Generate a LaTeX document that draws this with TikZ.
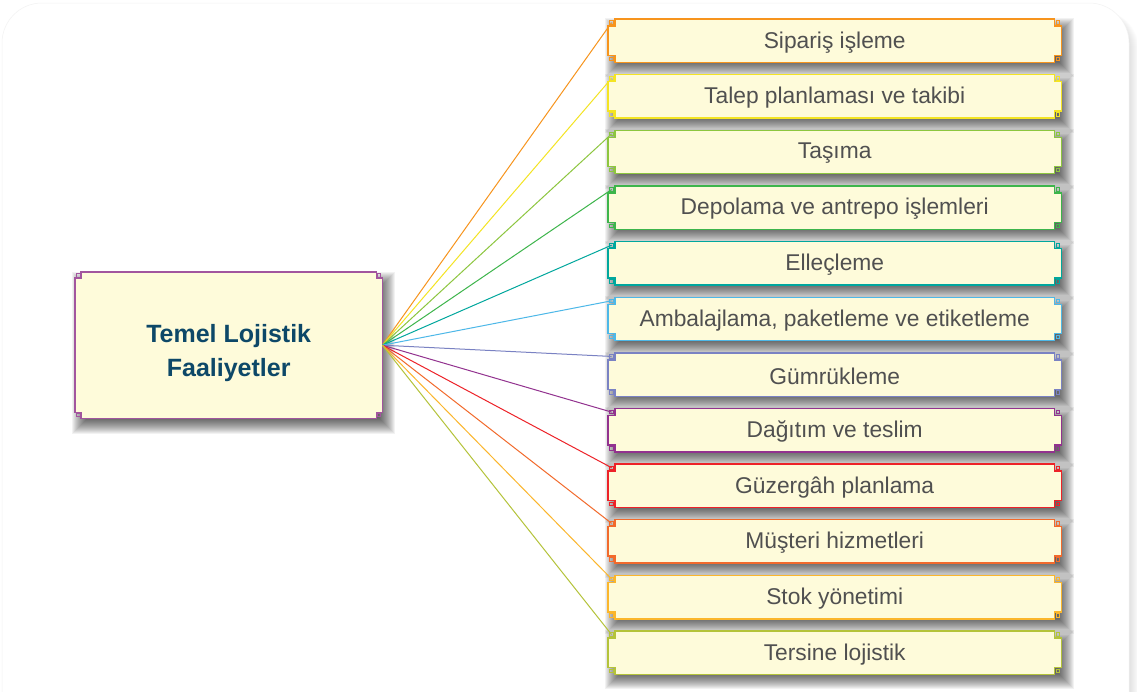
\documentclass[tikz,border=0pt]{standalone}
\usepackage{fontspec}
\setmainfont{Liberation Sans}
\usetikzlibrary{calc}

\pgfdeclarelayer{back}
\pgfdeclarelayer{shade}
\pgfdeclarelayer{frames}
\pgfsetlayers{back,shade,frames,main}

\definecolor{cream}{HTML}{FEFBDA}
\definecolor{itemtext}{HTML}{505050}
\definecolor{hubtext}{HTML}{0D4868}
\definecolor{hubline}{HTML}{A2559E}
\definecolor{c1}{HTML}{F7941D}
\definecolor{c2}{HTML}{F4E423}
\definecolor{c3}{HTML}{8DC63F}
\definecolor{c4}{HTML}{3DB54B}
\definecolor{c5}{HTML}{00A79D}
\definecolor{c6}{HTML}{4DB8E8}
\definecolor{c7}{HTML}{7A82C3}
\definecolor{c8}{HTML}{92328F}
\definecolor{c9}{HTML}{ED2228}
\definecolor{c10}{HTML}{F26A2C}
\definecolor{c11}{HTML}{FBB62C}
\definecolor{c12}{HTML}{B4C33A}

\tikzset{
  item/.style={anchor=north west, minimum width=453pt, minimum height=43pt,
    inner sep=0pt},
  itemtxt/.style={text=itemtext, font=\fontsize{22.8}{27}\selectfont, inner sep=0pt},
  hub/.style={anchor=north west, minimum width=307pt, minimum height=146pt,
    inner sep=0pt},
  hubtxt/.style={align=center, text=hubtext, inner sep=0pt,
    font=\bfseries\fontsize{25}{34}\selectfont},
  frame/.style={fill=cream, line width=1.4pt, line join=miter},
  knob/.style={line width=0.8pt},
  link/.style={line width=1pt},
}

% soft drop shadow under a node: nested translucent rectangles
% #1 node, #2 x offset, #3 y offset
\newcommand\softshadow[3]{%
  \foreach \e in {-8,-7,...,8}{
    \fill[black, opacity=0.05]
      ($(#1.north west)+(#2-\e,#3+\e)$) rectangle ($(#1.south east)+(#2+\e,#3-\e)$);
  }%
}

% notched frame with a small square in each cut corner
% #1 node, #2 colour, #3 notch size
\newcommand\notchframe[3]{%
  \path[frame, draw=#2]
    ($(#1.north west)+(#3,0)$) -- ($(#1.north east)+(-#3,0)$) -- ++(0,-#3) -- ++(#3,0)
    -- ($(#1.south east)+(0,#3)$) -- ++(-#3,0) -- ++(0,-#3)
    -- ($(#1.south west)+(#3,0)$) -- ++(0,#3) -- ++(-#3,0)
    -- ($(#1.north west)+(0,-#3)$) -- ++(#3,0) -- cycle;
  \draw[knob, draw=#2]
    ($(#1.north west)+(1.8,-1.8)$) rectangle ++(3.6,-3.6)
    ($(#1.north east)+(-5.4,-1.8)$) rectangle ++(3.6,-3.6)
    ($(#1.south east)+(-5.4,5.4)$) rectangle ++(3.6,-3.6)
    ($(#1.south west)+(1.8,5.4)$) rectangle ++(3.6,-3.6);
}

\begin{document}
\begin{tikzpicture}[x=1pt, y=1pt]
  \useasboundingbox (0,-691) rectangle (1137,0);
  \clip (0,-691) rectangle (1137,0);

  % page card with a faint shadow on its right
  \begin{pgfonlayer}{back}
    \fill[white] (0,-691) rectangle (1137,0);
    \foreach \e in {-6,-5,...,6}{
      \fill[black, opacity=0.012, rounded corners=40pt]
        (40,-10) rectangle (1133+\e,-760);
    }
    \path[fill=white, draw=black!5, line width=0.5pt, rounded corners=40pt]
      (2,-3) rectangle (1129,-760);
  \end{pgfonlayer}

  % central node
  \node[hub] (hub) at (75,-272) {};
  \node[hubtxt] (hubt) at ([yshift=-8pt]hub.center) {Temel Lojistik\\Faaliyetler};
  \begin{pgfonlayer}{shade}
    \softshadow{hub}{5}{-8}
  \end{pgfonlayer}
  \begin{pgfonlayer}{frames}
    \notchframe{hub}{hubline}{6}
  \end{pgfonlayer}
  \coordinate (hc) at (hub.east);

  % activities
  \foreach \i/\col/\txt in {
      1/c1/{Sipariş işleme},
      2/c2/{Talep planlaması ve takibi},
      3/c3/{Taşıma},
      4/c4/{Depolama ve antrepo işlemleri},
      5/c5/{Elleçleme},
      6/c6/{Ambalajlama, paketleme ve etiketleme},
      7/c7/{Gümrükleme},
      8/c8/{Dağıtım ve teslim},
      9/c9/{Güzergâh planlama},
      10/c10/{Müşteri hizmetleri},
      11/c11/{Stok yönetimi},
      12/c12/{Tersine lojistik}} {
    \pgfmathsetmacro\top{-19-55.64*(\i-1)}
    \node[item] (b\i) at (608,\top) {};
    \node[itemtxt] (t\i) at ([yshift=-1.5pt]b\i.center) {\txt};
    \coordinate (k\i) at ($(b\i.north west)+(3.6,-3.6)$);
    \begin{pgfonlayer}{shade}
      \softshadow{b\i}{5}{-7}
    \end{pgfonlayer}
    \begin{pgfonlayer}{frames}
      \notchframe{b\i}{\col}{7}
      \draw[link, draw=\col] (hc) -- (k\i);
    \end{pgfonlayer}
  }
\end{tikzpicture}
\end{document}
